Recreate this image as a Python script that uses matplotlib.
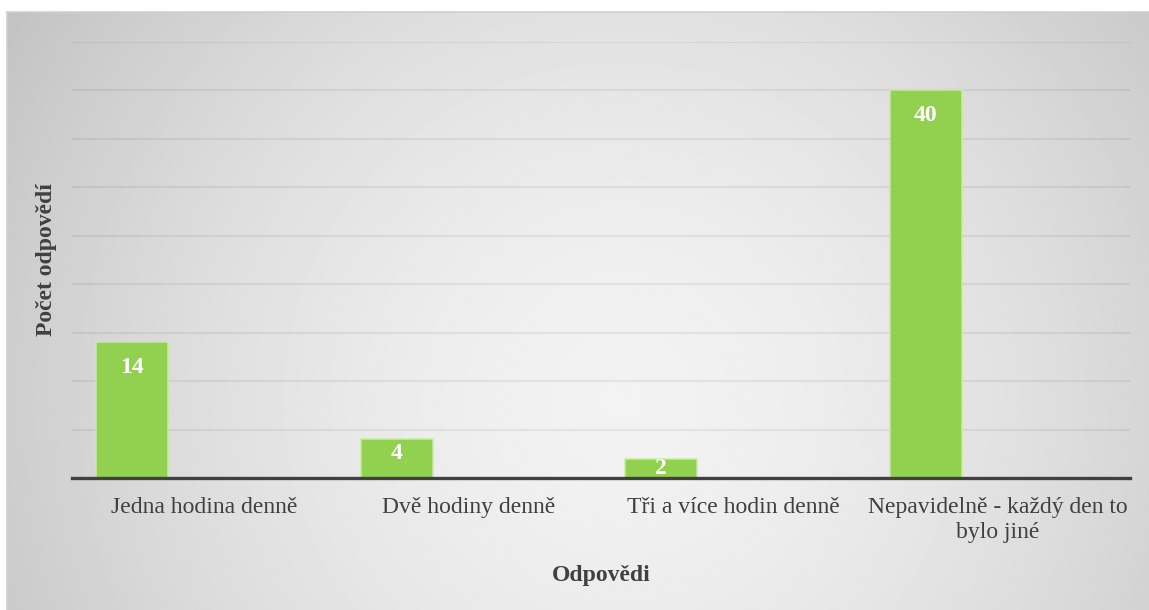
import numpy as np
import matplotlib
matplotlib.use('Agg')
import matplotlib.pyplot as plt

categories = ['Jedna hodina denně', 'Dvě hodiny denně', 'Tři a více hodin denně',
              'Nepavidelně - každý den to\nbylo jiné']
counts = [14, 4, 2, 40]

plt.rcParams['font.family'] = ['Liberation Serif', 'DejaVu Serif']

W, H = 1149, 610
fig = plt.figure(figsize=(W / 100, H / 100), dpi=100, facecolor='white')

# radial grey gradient behind the chart (frame runs off the right and bottom edge)
bg = fig.add_axes([7 / W, -0.05, 1.1 - 7 / W, 1.05 - 12 / H], zorder=0)
yy, xx = np.mgrid[12:H + 30, 7:W + 110]
d = np.hypot(xx - 620, yy - 400) / 730
shade = 0.95 - 0.19 * np.clip(d, 0, 1.1) ** 1.6
bg.imshow(shade, cmap='gray', vmin=0, vmax=1, aspect='auto', interpolation='bilinear')
bg.set_xticks([])
bg.set_yticks([])
for s in bg.spines.values():
    s.set_color('#d0d0d0')
    s.set_linewidth(1.2)

ax = fig.add_axes([72 / W, 1 - 478 / H, (1130 - 72) / W, (478 - 42) / H], zorder=1)
ax.patch.set_visible(False)

x = np.arange(len(categories))
bw = 0.272
bars = ax.bar(x - 1.5 * bw, counts, width=bw, align='edge', color='#92D050',
              edgecolor='#c8eaa4', linewidth=1.1, zorder=3)

ax.set_xlim(-0.5, len(categories) - 0.5)
ax.set_ylim(0, 45)
ax.set_yticks(np.arange(5, 50, 5))
ax.yaxis.grid(True, color='black', alpha=0.06, linewidth=1.5, zorder=0)
ax.tick_params(axis='y', left=False, labelleft=False)
ax.tick_params(axis='x', length=0, pad=14, labelsize=17, labelcolor='#404040')
ax.set_xticks(x)
ax.set_xticklabels(categories, linespacing=1.2)
for s in ['top', 'right', 'left']:
    ax.spines[s].set_visible(False)
ax.spines['bottom'].set_color('#404040')
ax.spines['bottom'].set_linewidth(2.4)
ax.spines['bottom'].set_zorder(4)

px_per_unit = (478 - 42) / 45
for b, v in zip(bars, counts):
    h_px = v * px_per_unit
    off = min(25, max(10, h_px * 0.37))
    ax.annotate(str(v), (b.get_x() + b.get_width() / 2, v), xytext=(0, -off),
                textcoords='offset pixels', ha='center', va='center',
                color='white', fontsize=17, fontweight='bold', zorder=5)

ax.set_xlabel('Odpovědi', fontsize=17, fontweight='bold', color='#404040', labelpad=16)
ax.set_ylabel('Počet odpovědí', fontsize=17, fontweight='bold', color='#404040', labelpad=4)
ax.yaxis.set_label_coords((57 - 72) / (1130 - 72), 0.5)

fig.savefig('out.png', dpi=100, facecolor='white')
